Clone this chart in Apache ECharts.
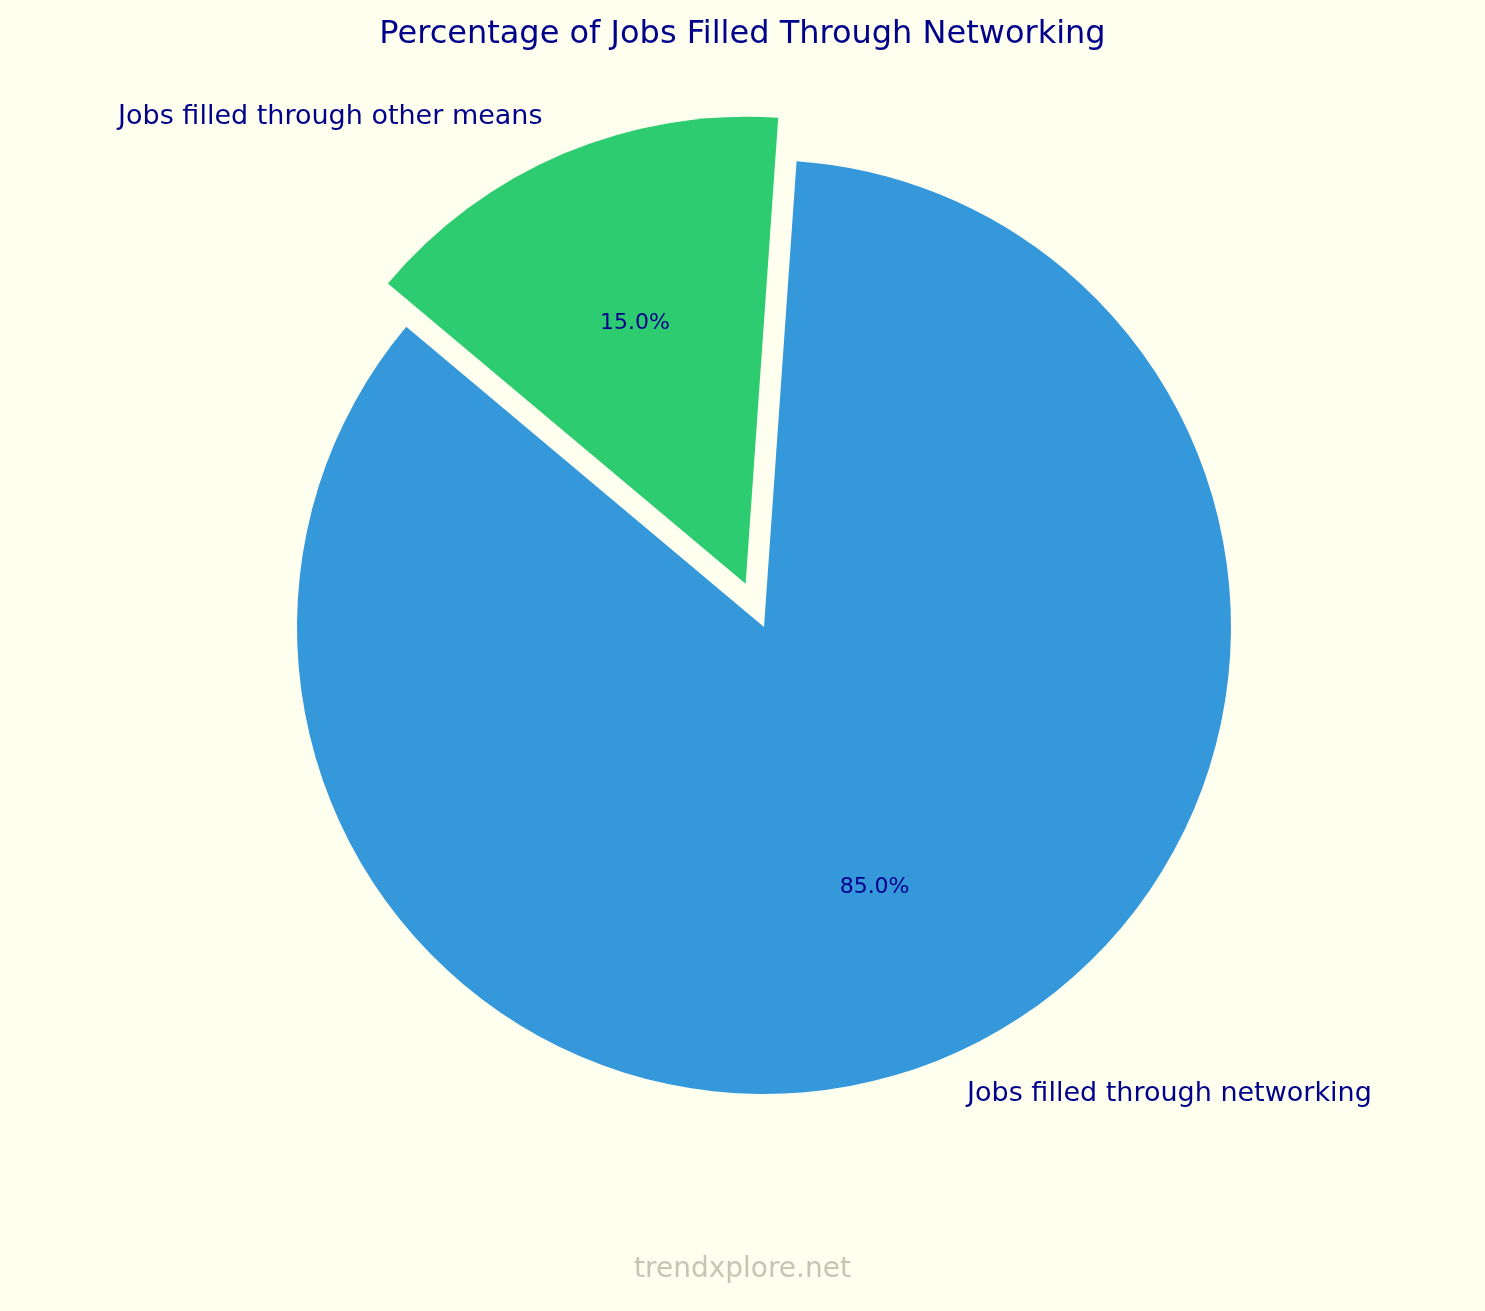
<!DOCTYPE html>
<html>
<head>
<meta charset="utf-8">
<script src="https://cdn.jsdelivr.net/npm/echarts@6/dist/echarts.min.js"></script>
<style>
html, body { margin: 0; padding: 0; background: #fffff0; }
#chart { width: 1485px; height: 1311px; }
</style>
</head>
<body>
<div id="chart"></div>
<script>
var categories = ['Jobs filled through networking', 'Jobs filled through other means'];
var values = [85, 15];
var colors = ['#3498db', '#2ecc71'];

var R = 467;
var font = 'DejaVu Sans';

function buildData(hide) {
	var out = [];
	for (var i = 0; i < categories.length; i++) {
		out.push({
			name: categories[i],
			value: values[i],
			selected: i == 1,
			itemStyle: { color: hide ? 'transparent' : colors[i] }
		});
	}
	return out;
}

var total = values.reduce(function (a, b) { return a + b; }, 0);

var chart = echarts.init(document.getElementById('chart'));
var option = {
	backgroundColor: '#fffff0',
	animation: false,
	title: {
		text: 'Percentage of Jobs Filled Through Networking',
		left: 'center',
		top: 14,
		textStyle: { color: '#00008b', fontFamily: font, fontSize: 32, fontWeight: 'normal' }
	},
	graphic: [{
		type: 'text',
		left: 'center',
		top: 1256,
		style: { text: 'trendxplore.net', fill: 'rgba(150,150,130,0.55)', font: '28px "DejaVu Sans"' }
	}],
	series: [
		{
			type: 'pie',
			center: [764, 627],
			radius: [0, R],
			startAngle: 140,
			clockwise: false,
			selectedMode: 'single',
			selectedOffset: 47,
			silent: true,
			label: {
				show: true,
				position: 'outside',
				color: '#00008b',
				fontFamily: font,
				fontSize: 27,
				formatter: '{b}'
			},
			labelLine: { show: false, length: 40, length2: 0 },
			data: buildData(false)
		},
		{
			type: 'pie',
			center: [764, 627],
			radius: [Math.round(R * 0.2), R],
			startAngle: 140,
			clockwise: false,
			selectedMode: 'single',
			selectedOffset: 47,
			silent: true,
			label: {
				show: true,
				position: 'inside',
				color: '#00008b',
				fontFamily: font,
				fontSize: 22,
				formatter: function (p) { return (p.value / total * 100).toFixed(1) + '%'; }
			},
			labelLine: { show: false },
			data: buildData(true)
		}
	]
};
chart.setOption(option);
</script>
</body>
</html>
